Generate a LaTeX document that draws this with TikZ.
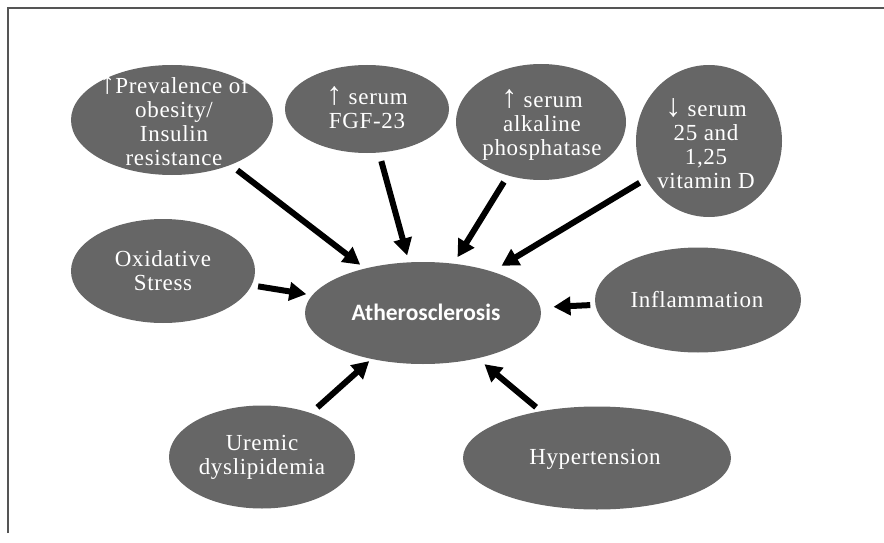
\documentclass[tikz,border=0pt]{standalone}
\usepackage{fontspec}
\setmainfont{Liberation Serif}
\newfontfamily\athfont{Carlito}
\usetikzlibrary{shapes.geometric,arrows.meta}
\definecolor{blobgray}{HTML}{666666}
\definecolor{framegray}{HTML}{555555}
\newcommand{\bigglyph}[1]{{\fontsize{32}{24}\selectfont #1}}
\begin{document}
\begin{tikzpicture}[x=1pt,y=-1pt,
  blob/.style={ellipse, fill=blobgray, draw=none, inner sep=0pt},
  lbl/.style={text=white, align=center, inner sep=0pt,
    font=\fontsize{23}{24}\selectfont\addfontfeatures{LetterSpace=3}},
  athlbl/.style={text=white, inner sep=0pt, font=\athfont\bfseries\fontsize{23.5}{26}\selectfont},
  arr/.style={line width=6pt, black, -{Triangle[length=17pt,width=18pt]}},
]
\useasboundingbox (0,0) rectangle (884,543);
% frame
\draw[framegray, line width=2pt] (8,533) -- (8,8) -- (884,8);

% ellipses
\node[blob, minimum width=202pt, minimum height=110pt] (ob)  at (172,120) {};
\node[blob, minimum width=164pt, minimum height=88pt]  (fgf) at (367,109) {};
\node[blob, minimum width=170pt, minimum height=116pt] (alp) at (541,122) {};
\node[blob, minimum width=146pt, minimum height=152pt] (vd)  at (709,141) {};
\node[blob, minimum width=184pt, minimum height=104pt] (ox)  at (163,271) {};
\node[blob, minimum width=236pt, minimum height=102pt] (ath) at (423,313) {};
\node[blob, minimum width=206pt, minimum height=105pt] (inf) at (698,300) {};
\node[blob, minimum width=186pt, minimum height=103pt] (ur)  at (262,457) {};
\node[blob, minimum width=268pt, minimum height=103pt] (ht)  at (597,458) {};

% labels
\node[lbl] (obt)  at (174,121) {\bigglyph{↑}Prevalence of\\obesity/\\Insulin\\resistance};
\node[lbl] (fgft) at (367,108) {\bigglyph{↑} serum\\FGF-23};
\node[lbl] (alpt) at (542,125) {\bigglyph{↑} serum\\alkaline\\phosphatase};
\node[lbl] (vdt)  at (706,144) {\bigglyph{↓} serum\\25 and\\1,25\\vitamin D};
\node[lbl] (oxt)  at (163,271) {Oxidative\\Stress};
\node[lbl] (inft) at (697,300) {Inflammation};
\node[lbl] (urt)  at (262,457) {Uremic\\dyslipidemia};
\node[lbl] (htt)  at (595,459) {Hypertension};
\node[athlbl] (atht) at (426,312) {Atherosclerosis};

% arrows
\draw[arr, shorten <=8.5pt, shorten >=6pt]  (ob)  -- (ath);
\draw[arr, shorten <=8.7pt, shorten >=7pt]  (fgf) -- (ath);
\draw[arr, shorten <=7.5pt, shorten >=7.5pt] (alp) -- (ath);
\draw[arr, shorten <=7pt,   shorten >=11pt] (vd)  -- (ath);
\draw[arr, shorten <=6.5pt, shorten >=6pt]  (ox)  -- (ath);
\draw[arr, shorten <=5pt,   shorten >=13pt] (inf) -- (ath);
\draw[arr, shorten <=8.5pt, shorten >=3pt]  (ur)  -- (ath);
\draw[arr, shorten <=6pt,   shorten >=9pt]  (ht)  -- (ath);
\end{tikzpicture}
\end{document}
